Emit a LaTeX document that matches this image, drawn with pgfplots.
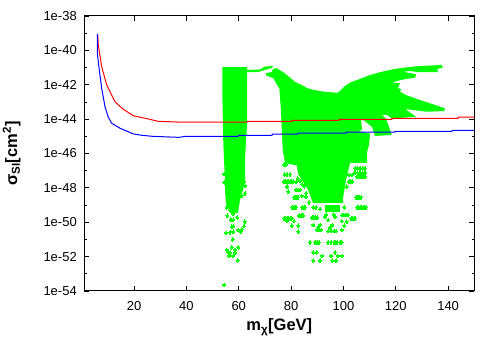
\documentclass[border=0pt]{standalone}
\usepackage{pgfplots}
\usepackage{fontspec}
\setmainfont{Liberation Sans}
\pgfplotsset{compat=1.18}
\definecolor{ptgreen}{RGB}{0,255,0}
\begin{document}
\begin{tikzpicture}[x=1pt,y=1pt]
\path[use as bounding box] (0,0) rectangle (500,350);
\begin{axis}[
  at={(84.3pt,59pt)},anchor=south west,
  width=390pt,height=275pt,scale only axis,
  xmin=1,xmax=150,ymin=-54,ymax=-38,
  xtick={20,40,60,80,100,120,140},
  ytick={-54,-52,-50,-48,-46,-44,-42,-40,-38},
  yticklabels={1e-54,1e-52,1e-50,1e-48,1e-46,1e-44,1e-42,1e-40,1e-38},
  minor ytick={-53,-51,-49,-47,-45,-43,-41,-39},
  tick align=inside,
  major tick length=5pt,minor tick length=2.7pt,
  axis line style={line width=1pt},
  every tick/.style={black,line width=0.8pt},
  /pgf/number format/assume math mode=true,
  tick label style={font=\fontsize{13}{13}\selectfont},
  xticklabel style={yshift=-7pt},
  yticklabel style={xshift=-4pt},
  xlabel={\fontsize{16.5}{16.5}\selectfont\bfseries m\textsubscript{χ}[GeV]},
  ylabel={\fontsize{16.5}{16.5}\selectfont\bfseries σ\textsubscript{SI}[cm\textsuperscript{2}]},
  xlabel style={yshift=-1pt},
  ylabel style={yshift=16pt},
]
% band near 60 GeV
\addplot[fill=ptgreen,draw=none] coordinates {
(53.73,-40.98)(63.17,-40.98)(63.17,-44.42)(62.79,-45.21)(62.40,-46.38)(62.40,-47.54)
(61.64,-48.12)(60.49,-48.70)(59.73,-49.46)(56.67,-49.46)(55.14,-48.88)(54.76,-48.12)
(54.76,-47.54)(54.38,-46.38)(54.11,-45.39)(53.73,-42.5)} -- cycle;
% sliver
\addplot[fill=ptgreen,draw=none] coordinates {
(63.17,-41.14)(68.14,-41.11)(70.05,-40.94)(73.11,-40.91)(72.72,-41.02)(70.05,-41.14)
(67.37,-41.26)(63.17,-41.27)} -- cycle;
% main body
\addplot[fill=ptgreen,draw=none] coordinates {
(74.25,-41.02)(76.92,-41.26)(79.6,-41.58)(81.51,-41.84)(84.57,-42.05)(86.1,-42.19)
(88.39,-42.29)(91.83,-42.39)(96.03,-42.45)(97.94,-42.46)(100.62,-42.07)(102.53,-41.87)
(106.35,-41.66)(110.17,-41.43)(113.99,-41.27)(118.96,-41.10)(122.78,-41.01)(129.28,-40.91)
(137.56,-40.85)(137.95,-41.01)(135.77,-41.08)(136.15,-41.27)(128.5,-41.27)(125.82,-41.20)
(122.78,-41.24)(127.74,-41.39)(127.36,-41.59)(123.92,-41.66)(120.48,-41.78)(118.57,-41.88)
(121.63,-41.91)(120.86,-42.19)(122.01,-42.26)(121.63,-42.40)(123.92,-42.60)(127.36,-42.79)
(133.1,-43.08)(138.83,-43.37)(138.45,-43.53)(131.96,-43.57)(123.54,-43.41)(127.74,-43.86)
(118.57,-43.96)(116.66,-43.76)(114.75,-43.76)(116.27,-43.99)(117.8,-44.63)(118.46,-44.92)
(112.08,-44.98)(110.94,-44.46)(107.88,-44.08)(106.73,-44.05)(107.11,-44.63)(105.58,-44.69)
(110.17,-44.84)(109.79,-45.50)(109.02,-45.91)(109.02,-46.55)(102.53,-46.55)(100.99,-47.54)
(99.85,-48.59)(99.85,-48.88)(88.39,-48.88)(86.5,-48.12)(82.7,-47.2)(82.2,-46.7)(77.69,-46.55)
(76.81,-45.79)(76.54,-44.92)(76.16,-43.58)(75.51,-42.19)(75.01,-42.11)(73.22,-41.62)
(70.43,-41.46)(70.43,-41.32)(72.72,-41.26)(72.72,-41.14)} -- cycle;
% cluster
\addplot[fill=ptgreen,draw=none] coordinates {
(92.97,-48.99)(98.7,-48.99)(98.7,-49.4)(92.97,-49.4)} -- cycle;
% scattered points
\addplot[only marks,mark=diamond*,mark size=1.9pt,ptgreen,mark options={draw=ptgreen,fill=ptgreen,line width=0pt}] table {
54.49 -53.65
59.61 -52.21
57.93 -51.96
56.4 -51.96
55.41 -51.61
56.02 -51.76
56.67 -51.76
58.58 -51.61
58.58 -51.76
57.32 -51.45
59.84 -51.45
57.7 -50.99
55.14 -50.62
56.67 -50.58
57.93 -50.55
57.32 -50.27
57.93 -50.22
59.84 -50.45
60.76 -50.55
61.14 -50.42
62.02 -50.22
62.29 -49.97
56.94 -49.84
57.93 -49.86
59.46 -49.72
57.93 -49.52
55.64 -49.62
59.23 -49.11
58.97 -49.29
56.67 -49.29
55.41 -49.13
56.67 -48.90
61.14 -48.45
62.4 -48.31
62.4 -47.89
62.02 -47.64
61.75 -47.06
54.49 -47.19
54.49 -47.67
81.12 -48.55
81.5 -48.55
81.89 -48.55
82.3 -48.55
82.65 -48.55
84.07 -48.47
85.71 -48.51
104.81 -48.55
105.3 -48.55
105.77 -48.55
106.3 -48.55
106.73 -48.55
86.86 -48.84
80.36 -49.13
80.7 -49.13
81.12 -49.13
81.5 -49.13
81.89 -49.13
84.18 -49.13
84.95 -49.13
85.33 -49.13
88.5 -49.13
89.53 -49.13
91.06 -49.23
100.35 -49.13
105.2 -49.13
105.8 -49.13
106.35 -49.13
106.9 -49.13
107.49 -49.13
108.05 -49.13
108.64 -49.13
83.04 -49.62
83.4 -49.62
83.8 -49.62
84.2 -49.62
84.57 -49.62
88.0 -49.73
88.6 -49.73
89.15 -49.73
89.92 -49.73
92.97 -49.67
93.5 -49.55
96.79 -49.67
96.2 -49.55
99.47 -49.58
100.0 -49.58
100.62 -49.58
101.2 -49.58
101.76 -49.58
102.91 -49.77
103.5 -49.77
104.05 -49.77
104.43 -49.77
77.3 -49.77
77.9 -49.77
78.45 -49.77
79.0 -49.77
79.6 -49.77
80.25 -49.77
78.45 -49.93
81.12 -49.93
94.12 -49.87
99.35 -49.93
101.26 -49.97
80.25 -50.2
82.77 -50.2
88.5 -50.16
91.06 -50.16
95.76 -50.16
100.35 -50.2
94.88 -50.31
82.77 -50.55
89.92 -50.45
90.3 -50.3
90.68 -50.45
91.44 -50.45
94.12 -50.51
95.26 -50.51
96.41 -50.51
97.17 -50.51
99.35 -50.45
87.24 -51.16
89.15 -51.16
89.92 -51.16
90.68 -51.16
94.12 -51.16
95.26 -51.16
96.41 -51.16
97.0 -51.16
97.56 -51.16
98.7 -51.16
99.35 -51.16
88.5 -51.75
89.8 -51.75
96.79 -51.75
91.94 -51.96
95.26 -51.96
97.82 -51.96
99.58 -51.96
88.5 -52.23
91.06 -52.23
95.76 -52.23
97.17 -52.23
77.3 -46.64
78.06 -46.64
77.49 -47.21
78.45 -47.21
79.6 -47.21
77.3 -47.64
77.9 -47.64
78.45 -47.64
79.0 -47.64
79.6 -47.64
80.2 -47.64
80.74 -47.64
78.45 -47.93
81.89 -48.12
82.65 -48.12
83.42 -48.12
78.91 -48.22
81.97 -47.64
82.5 -47.45
83.5 -47.6
84.3 -47.8
84.95 -47.54
85.71 -47.54
84.18 -47.15
83.42 -46.77
104.43 -46.86
105.4 -46.86
106.35 -46.86
107.3 -46.86
108.26 -46.86
104.43 -47.12
105.4 -47.12
106.35 -47.12
107.3 -47.12
108.26 -47.12
105.2 -47.35
106.0 -47.35
106.73 -47.35
107.5 -47.35
108.26 -47.35
102.14 -47.25
103.29 -47.25
102.14 -47.64
102.7 -47.64
103.29 -47.64
101.26 -47.93
85.0 -47.9
85.8 -48.3
84.2 -47.3
};
% limits
\addplot[red,line width=1pt] coordinates {
(6.12,-39.05)(6.35,-39.69)(7.65,-40.95)(9.56,-42.01)(12.73,-42.99)(15.9,-43.43)
(19.72,-43.80)(24.84,-43.97)(29.28,-44.13)(36.92,-44.17)(63.05,-44.18)(63.28,-44.13)
(80.25,-44.13)(80.36,-44.07)(98.32,-44.07)(98.32,-44.01)(118.46,-44.01)(118.46,-43.95)
(143.8,-43.95)(143.8,-43.89)(150,-43.89)};
\addplot[blue,line width=1pt] coordinates {
(5.97,-39.05)(5.97,-40.17)(6.73,-41.14)(7.65,-42.21)(8.91,-43.28)(10.17,-43.89)
(11.47,-44.24)(14.64,-44.53)(19.72,-44.86)(22.93,-44.94)(26.98,-45.0)(36.92,-45.06)
(40.13,-45.0)(59.73,-45.0)(60.11,-44.94)(72.72,-44.94)(72.84,-44.88)(82.54,-44.88)
(82.66,-44.82)(101.0,-44.82)(101.0,-44.76)(119.72,-44.76)(119.72,-44.71)(141.4,-44.71)
(141.6,-44.65)(150,-44.65)};
\end{axis}
\end{tikzpicture}
\end{document}
